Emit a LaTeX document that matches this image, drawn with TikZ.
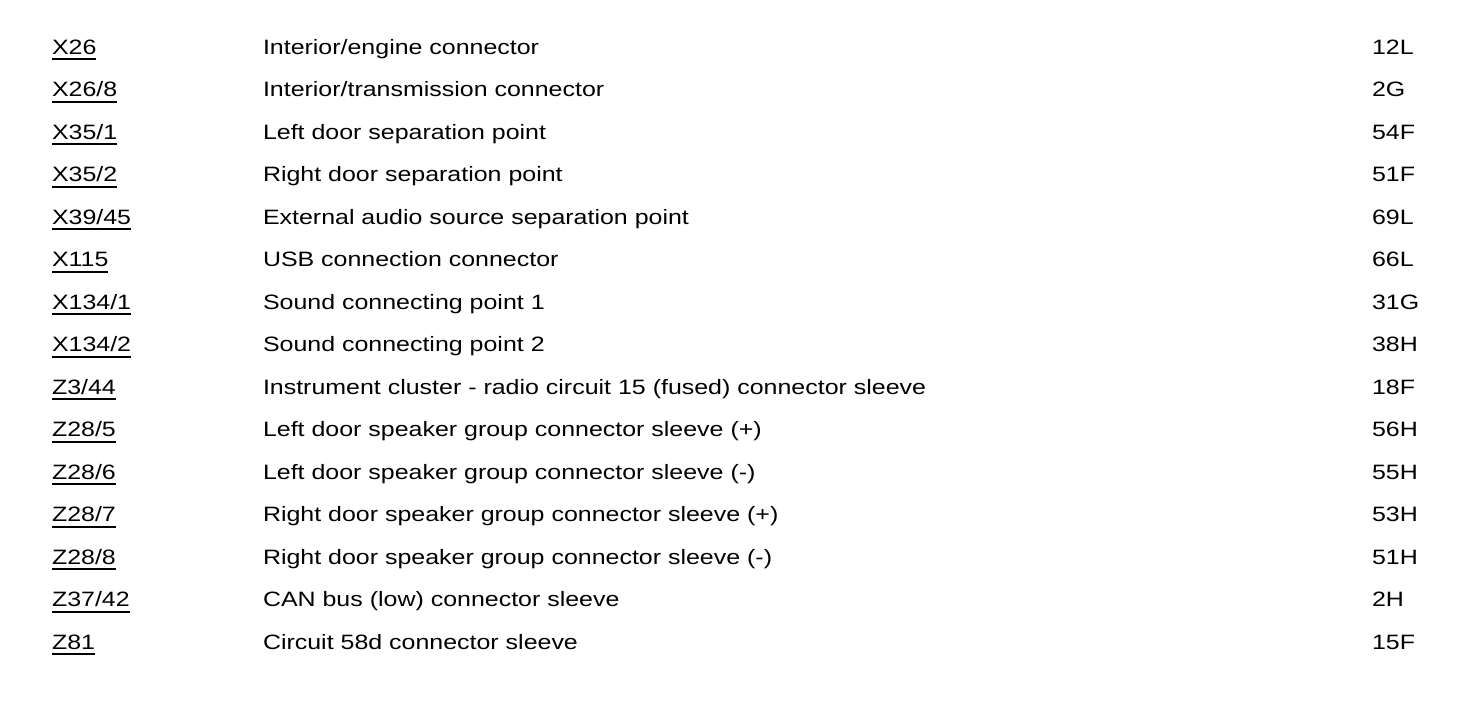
\documentclass[tikz,border=0pt]{standalone}
\usepackage{fontspec}
\setmainfont[FakeStretch=1.2]{Liberation Sans}
\begin{document}
\begin{tikzpicture}[x=1pt,y=-1pt,
  cell/.style={anchor=base west,inner sep=0pt,outer sep=0pt,font=\fontsize{20.8}{24}\selectfont},
  uline/.style={line width=2pt,black}]
\useasboundingbox (0,0) rectangle (1472,718);
\foreach \i/\code/\desc/\ref in {
 0/X26/Interior\slash engine connector/12L,
 1/X26\slash 8/Interior\slash transmission connector/2G,
 2/X35\slash 1/Left door separation point/54F,
 3/X35\slash 2/Right door separation point/51F,
 4/X39\slash 45/External audio source separation point/69L,
 5/X115/USB connection connector/66L,
 6/X134\slash 1/Sound connecting point 1/31G,
 7/X134\slash 2/Sound connecting point 2/38H,
 8/Z3\slash 44/Instrument cluster - radio circuit 15 (fused) connector sleeve/18F,
 9/Z28\slash 5/Left door speaker group connector sleeve (+)/56H,
 10/Z28\slash 6/Left door speaker group connector sleeve (-)/55H,
 11/Z28\slash 7/Right door speaker group connector sleeve (+)/53H,
 12/Z28\slash 8/Right door speaker group connector sleeve (-)/51H,
 13/Z37\slash 42/CAN bus (low) connector sleeve/2H,
 14/Z81/Circuit 58d connector sleeve/15F}{
  \pgfmathsetmacro{\yy}{54+42.5*\i}
  \node[cell] (c\i) at (52,\yy) {\code};
  \node[cell] (d\i) at (263,\yy) {\desc};
  \node[cell] (r\i) at (1372,\yy) {\ref};
  \draw[uline] ([yshift=-5pt]c\i.base west) -- ([yshift=-5pt]c\i.base east);
}
\end{tikzpicture}
\end{document}
